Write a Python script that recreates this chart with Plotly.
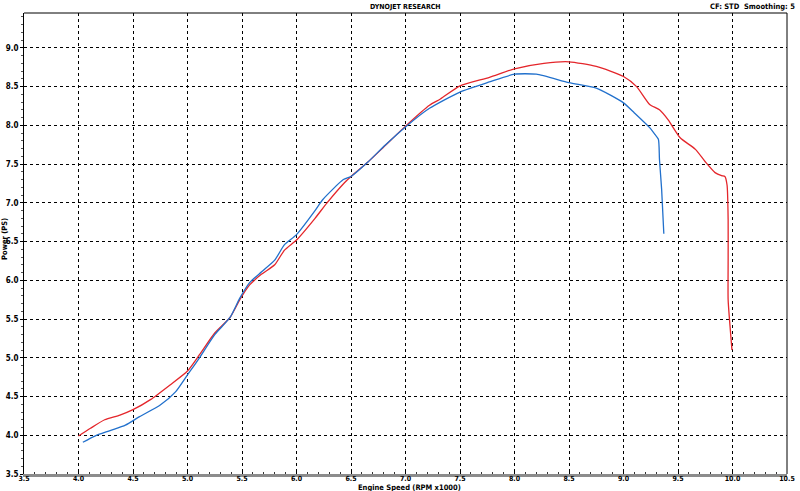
import plotly.graph_objects as go

red_rpm = [4.0, 4.11, 4.24, 4.38, 4.5, 4.66, 4.84, 5.0, 5.11, 5.25, 5.39, 5.48, 5.57, 5.68, 5.80, 5.89,
           6.0, 6.17, 6.28, 6.44, 6.5, 6.65, 6.8, 7.0, 7.22, 7.32, 7.5, 7.77, 8.0, 8.27, 8.5, 8.75, 9.0, 9.12,
           9.24, 9.33, 9.41, 9.52, 9.66, 9.75, 9.84, 9.90, 9.93, 9.95, 9.96, 9.96, 9.96, 9.98, 9.995]
red_ps = [3.99, 4.09, 4.20, 4.26, 4.33, 4.46, 4.65, 4.83, 5.04, 5.32, 5.52, 5.75, 5.94, 6.08, 6.20, 6.39,
          6.52, 6.80, 7.0, 7.26, 7.34, 7.52, 7.72, 7.99, 8.26, 8.34, 8.51, 8.62, 8.73, 8.80, 8.82, 8.76, 8.63, 8.50,
          8.27, 8.20, 8.07, 7.84, 7.69, 7.53, 7.39, 7.35, 7.34, 7.23, 6.78, 6.26, 5.75, 5.36, 5.10]

blue_rpm = [4.04, 4.15, 4.29, 4.43, 4.56, 4.75, 4.89, 5.0, 5.11, 5.25, 5.39, 5.48, 5.57, 5.68, 5.80, 5.89,
            6.0, 6.17, 6.24, 6.43, 6.5, 6.65, 6.81, 7.0, 7.22, 7.5, 7.77, 8.0, 8.2, 8.5, 8.75, 9.0, 9.1,
            9.24, 9.29, 9.32, 9.33, 9.35, 9.37]
blue_ps = [3.91, 3.99, 4.06, 4.13, 4.24, 4.39, 4.56, 4.78, 5.0, 5.30, 5.52, 5.77, 5.97, 6.11, 6.26, 6.46,
           6.59, 6.90, 7.04, 7.30, 7.34, 7.52, 7.74, 7.98, 8.22, 8.43, 8.56, 8.66, 8.66, 8.55, 8.48, 8.29, 8.16,
           7.97, 7.88, 7.82, 7.56, 7.17, 6.60]

x_ticks = [3.5, 4.0, 4.5, 5.0, 5.5, 6.0, 6.5, 7.0, 7.5, 8.0, 8.5, 9.0, 9.5, 10.0, 10.5]
y_ticks = [3.5, 4.0, 4.5, 5.0, 5.5, 6.0, 6.5, 7.0, 7.5, 8.0, 8.5, 9.0]

FONT = "DejaVu Sans Condensed, DejaVu Sans"

fig = go.Figure()
fig.add_trace(go.Scatter(x=red_rpm, y=red_ps, mode="lines",
                         line=dict(color="#e4262b", width=1.3, shape="spline", smoothing=0.6),
                         showlegend=False))
fig.add_trace(go.Scatter(x=blue_rpm, y=blue_ps, mode="lines",
                         line=dict(color="#2170cc", width=1.3, shape="spline", smoothing=0.6),
                         showlegend=False))

fig.update_layout(
    width=800, height=491,
    margin=dict(l=24, r=13, t=13, b=17),
    paper_bgcolor="white", plot_bgcolor="white",
    font=dict(family=FONT, size=8, color="black"),
    xaxis=dict(range=[3.5, 10.5], tickvals=x_ticks, ticktext=[f"{v:.1f}" for v in x_ticks],
               showgrid=True, gridcolor="black", griddash="dot", gridwidth=1,
               showline=True, linecolor="#8c8c8c", linewidth=3,
               ticks="inside", ticklen=3, tickcolor="black",
               minor=dict(dtick=0.1, ticks="inside", ticklen=2, tickcolor="#333", showgrid=False),
               tickfont=dict(family=FONT, size=7, weight="bold"),
               zeroline=False, ticklabelstandoff=-4, automargin=False),
    yaxis=dict(range=[3.5, 9.45], tickvals=y_ticks, ticktext=[f"{v:.1f}" for v in y_ticks],
               showgrid=True, gridcolor="black", griddash="dot", gridwidth=1,
               showline=True, linecolor="black", linewidth=1,
               ticks="outside", ticklen=3, tickcolor="black",
               minor=dict(dtick=0.1, ticks="outside", ticklen=2, tickcolor="#555", showgrid=False),
               tickfont=dict(family=FONT, size=8, weight="bold"),
               zeroline=False, ticklabelstandoff=0, automargin=False),
    shapes=[
        dict(type="line", xref="paper", yref="paper", x0=0, x1=1, y0=1, y1=1,
             line=dict(color="black", width=1)),
        dict(type="line", xref="paper", yref="paper", x0=1, x1=1, y0=0, y1=1,
             line=dict(color="black", width=1)),
    ],
    annotations=[
        dict(text="<b>DYNOJET RESEARCH</b>", xref="paper", yref="paper", x=0.5, y=1,
             yanchor="bottom", xanchor="center", showarrow=False, font=dict(size=7), yshift=0),
        dict(text="<b>CF: STD  Smoothing: 5</b>", xref="paper", yref="paper", x=1.013, y=1,
             yanchor="bottom", xanchor="right", showarrow=False, font=dict(size=7.5), yshift=0),
        dict(text="<b>Engine Speed (RPM x1000)</b>", xref="paper", yref="paper", x=0.505, y=0,
             yanchor="bottom", xanchor="center", showarrow=False, font=dict(size=7.5), yshift=-19,
             borderpad=0),
        dict(text="<b>Power (PS)</b>", xref="paper", yref="paper", x=0, y=0.51, textangle=-90,
             xanchor="center", yanchor="middle", showarrow=False, font=dict(size=7.5), xshift=-19),
    ],
)

fig.write_html("out.html", config={"displayModeBar": False},
               post_script="document.body.style.margin='0';document.body.style.overflow='hidden';")
